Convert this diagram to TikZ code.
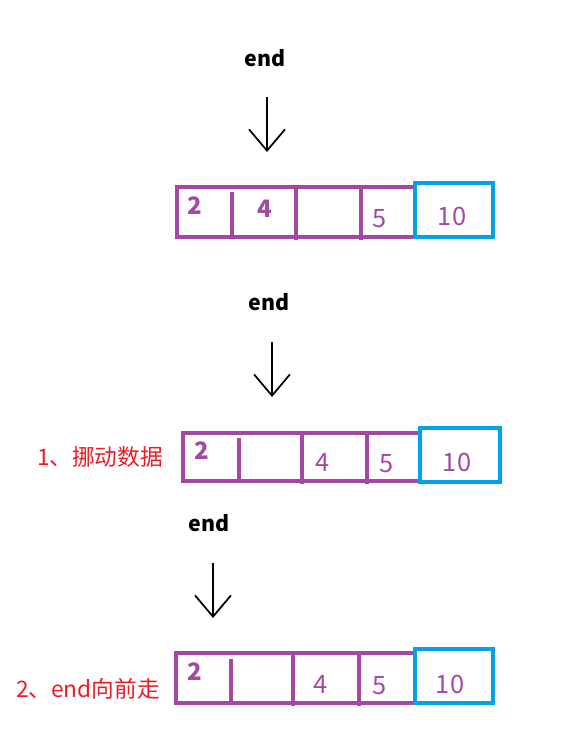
\documentclass[tikz,border=0pt]{standalone}
\usepackage{fontspec}
\setmainfont{Noto Sans CJK SC}
\usetikzlibrary{arrows.meta}
\definecolor{cellpurple}{RGB}{163,73,164}
\definecolor{cellblue}{RGB}{0,162,232}
\definecolor{notered}{RGB}{237,28,36}

\begin{document}
\begin{tikzpicture}[x=0.75pt,y=-0.75pt,
  cell/.style={cellpurple,line width=3.6pt},
  lastcell/.style={cellblue,line width=3.6pt},
  num/.style={text=cellpurple,font=\fontsize{19}{22}\selectfont,inner sep=0pt},
  bnum/.style={text=cellpurple,font=\fontsize{18}{21}\selectfont\bfseries,inner sep=0pt},
  ptr/.style={font=\fontsize{16}{19}\selectfont\bfseries,inner sep=0pt},
  down/.style={line width=1.3pt,-{Straight Barb[length=16pt,width=27pt,line width=1.3pt]}},
  note/.style={text=notered,font=\fontsize{17}{20}\selectfont,inner sep=0pt}]
\useasboundingbox (0,0) rectangle (578,731);

%row 1
\node[ptr] (end1) at (265,58) {end};
\coordinate (top1) at (267,97);
\coordinate (tip1) at (267,152);
\draw[down] (top1) -- (tip1);
\draw[cell] (177,187) rectangle (415,237) (232,192) -- (232,239) (296,187) -- (296,240) (361,187) -- (361,240);
\draw[lastcell] (415,183) rectangle (493,237);
\node[bnum] (a1) at (195,206) {2};
\node[bnum] (b1) at (265,209) {4};
\node[num] (c1) at (380,219) {5};
\node[num] (d1) at (452,216) {10};

%row 2
\node[ptr] (end2) at (269,302) {end};
\coordinate (top2) at (272,342);
\coordinate (tip2) at (272,397);
\draw[down] (top2) -- (tip2);
\draw[cell] (183,433) rectangle (420,481) (239,438) -- (239,483) (302,433) -- (302,484) (367,433) -- (367,484);
\draw[lastcell] (420,428) rectangle (500,482);
\node[bnum] (a2) at (202,451) {2};
\node[num] (b2) at (323,462) {4};
\node[num] (c2) at (387,464) {5};
\node[num] (d2) at (457,462) {10};
\node[note] (step1) at (100,457) {1、挪动数据};

%row 3
\node[ptr] (end3) at (209,523) {end};
\coordinate (top3) at (213,563);
\coordinate (tip3) at (213,618);
\draw[down] (top3) -- (tip3);
\draw[cell] (176,653) rectangle (415,703) (231,659) -- (231,705) (293,653) -- (293,706) (359,653) -- (359,706);
\draw[lastcell] (415,649) rectangle (493,703);
\node[bnum] (a3) at (195,672) {2};
\node[num] (b3) at (321,684) {4};
\node[num] (c3) at (380,686) {5};
\node[num] (d3) at (450,684) {10};
\node[note] (step2) at (88,689) {2、end向前走};
\end{tikzpicture}
\end{document}
